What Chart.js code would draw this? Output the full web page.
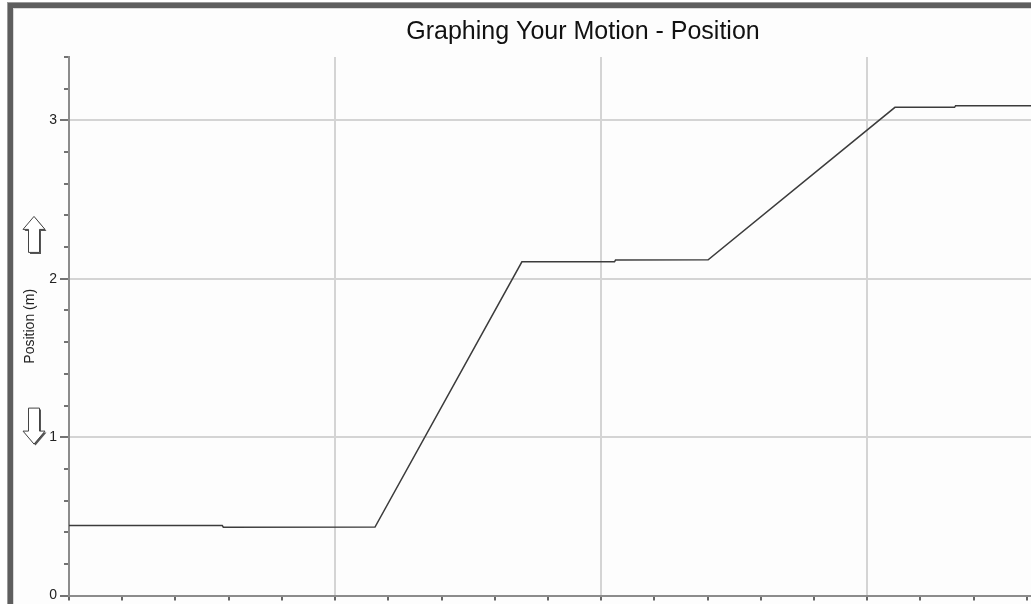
<!DOCTYPE html>
<html>
<head>
<meta charset="utf-8">
<script src="https://cdn.jsdelivr.net/npm/chart.js@4/dist/chart.umd.min.js"></script>
<style>
  html, body { margin: 0; padding: 0; width: 1031px; height: 604px; overflow: hidden; background: #ffffff; }
  #frame { position: absolute; left: 8px; top: 3px; width: 1200px; height: 700px;
           border-left: 5px solid #5e5e5e; border-top: 5px solid #5e5e5e;
           box-shadow: -1px -1px 0 #9a9a9a, inset 1px 1px 0 #d8d8d8; background: #fdfdfd; }
  #chart { position: absolute; left: 0; top: 0; }
</style>
</head>
<body>
<div id="frame"></div>
<canvas id="chart" width="1160" height="607"></canvas>
<script>
// ---- data ----
const chartTitle = 'Graphing Your Motion - Position';
const yAxisTitle = 'Position (m)';
const timeValues     = [0, 2.88, 2.90, 5.75, 8.51, 10.25, 10.27, 12.01, 15.52, 16.64, 16.66, 20.35];
const positionValues = [0.442, 0.442, 0.432, 0.433, 2.107, 2.107, 2.118, 2.120, 3.082, 3.082, 3.093, 3.093];
const yMin = 0, yMax = 3.4, yStep = 0.2;
const xMin = 0, xMax = 20.35, xStep = 1, xMajorEvery = 5;
const upArrowValue = 2.28, downArrowValue = 1.07;

const points = timeValues.map((t, i) => ({ x: t, y: positionValues[i] }));
const isInt = v => Math.abs(v - Math.round(v)) < 1e-6;
const isXMajor = v => isInt(v / xMajorEvery);

const arrowPlugin = {
  id: 'sideArrows',
  afterDraw(chart) {
    const ctx = chart.ctx;
    const ys = chart.scales.y;
    function drawArrow(cy, up) {
      const cx = 34, hw = 11, sw = 5.5, h = 36, head = 13;
      const top = cy - h / 2, bot = cy + h / 2;
      let pts;
      if (up) {
        pts = [[cx, top], [cx + hw, top + head], [cx + sw, top + head], [cx + sw, bot],
               [cx - sw, bot], [cx - sw, top + head], [cx - hw, top + head]];
      } else {
        pts = [[cx, bot], [cx + hw, bot - head], [cx + sw, bot - head], [cx + sw, top],
               [cx - sw, top], [cx - sw, bot - head], [cx - hw, bot - head]];
      }
      const path = (dx, dy) => {
        ctx.beginPath();
        pts.forEach((p, i) => i ? ctx.lineTo(p[0] + dx, p[1] + dy) : ctx.moveTo(p[0] + dx, p[1] + dy));
        ctx.closePath();
      };
      ctx.save();
      path(1.5, 1.5); ctx.fillStyle = '#555'; ctx.fill();
      path(0, 0); ctx.fillStyle = '#ffffff'; ctx.fill();
      ctx.lineWidth = 1; ctx.strokeStyle = '#444'; ctx.stroke();
      ctx.restore();
    }
    drawArrow(ys.getPixelForValue(upArrowValue), true);
    drawArrow(ys.getPixelForValue(downArrowValue), false);
  }
};

new Chart(document.getElementById('chart'), {
  type: 'line',
  data: {
    datasets: [{
      data: points,
      borderColor: '#3c3c3c',
      borderWidth: 1.5,
      pointRadius: 0,
      tension: 0,
      fill: false
    }]
  },
  plugins: [arrowPlugin],
  options: {
    responsive: false,
    animation: false,
    layout: { padding: { left: 14, top: 8, right: 8, bottom: 0 } },
    plugins: {
      legend: { display: false },
      tooltip: { enabled: false },
      title: {
        display: true,
        text: chartTitle,
        color: '#111',
        font: { family: 'Liberation Sans, Arial, sans-serif', size: 25, weight: 'normal' },
        padding: { top: 9, bottom: 10 }
      }
    },
    scales: {
      x: {
        type: 'linear',
        min: xMin, max: xMax,
        afterFit(scale) { scale.height = 8; },
        ticks: { display: false, stepSize: xStep },
        border: { color: '#8c8c8c', width: 2 },
        grid: {
          color: ctx => (ctx.tick && isXMajor(ctx.tick.value) && ctx.tick.value !== 0) ? '#d4d4d4' : 'rgba(0,0,0,0)',
          lineWidth: 2,
          tickColor: '#333',
          tickLength: 5,
          tickWidth: 1.5
        }
      },
      y: {
        type: 'linear',
        min: yMin, max: yMax,
        afterFit(scale) { scale.width = 55; },
        title: {
          display: true,
          text: yAxisTitle,
          color: '#222',
          font: { family: 'Liberation Sans, Arial, sans-serif', size: 14 },
          padding: { top: 7.5, bottom: 0 }
        },
        ticks: {
          stepSize: yStep,
          padding: 3,
          color: '#222',
          font: { family: 'Liberation Sans, Arial, sans-serif', size: 14 },
          callback: v => isInt(v) ? String(Math.round(v)) : ''
        },
        border: { color: '#8c8c8c', width: 2 },
        grid: {
          color: ctx => (ctx.tick && isInt(ctx.tick.value) && ctx.tick.value !== 0) ? '#d4d4d4' : 'rgba(0,0,0,0)',
          lineWidth: 2,
          tickColor: '#444',
          tickLength: 9,
          tickWidth: 1.5,
          tickBorderDash: ctx => (ctx.tick && isInt(ctx.tick.value)) ? [] : [0, 4, 10]
        }
      }
    }
  }
});
</script>
</body>
</html>
